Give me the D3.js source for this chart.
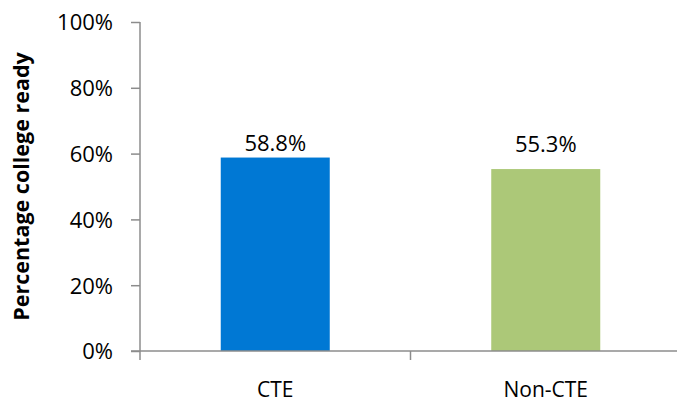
<!DOCTYPE html>
<html>
<head>
<meta charset="utf-8">
<script src="https://cdn.jsdelivr.net/npm/d3@7"></script>
<style>
  html, body { margin: 0; padding: 0; background: #fff; }
  svg { display: block; }
  text { font-family: "Open Sans", "Liberation Sans", sans-serif; fill: #000; }
</style>
</head>
<body>
<svg id="chart" width="677" height="404"></svg>
<script>
// Share of students who are college ready, by program type
const categories = ["CTE", "Non-CTE"];
const values = [0.588, 0.553];
const barColors = ["#0078D4", "#ACC878"];
const yTicks = [0, 0.2, 0.4, 0.6, 0.8, 1.0];
const yTitle = "Percentage college ready";

const svg = d3.select("#chart");
const plot = { left: 140, right: 681, top: 22, bottom: 351 };
const axisColor = "#8c8c8c";
const fontSize = 22;

const x = d3.scaleBand()
  .domain(categories)
  .range([plot.left, plot.right])
  .padding(0);

const y = d3.scaleLinear()
  .domain([0, 1])
  .range([plot.bottom, plot.top]);

const barWidth = x.bandwidth() * 0.403;
const pct = d3.format(".0%");
const pct1 = d3.format(".1%");

// bars
svg.append("g")
  .selectAll("rect")
  .data(categories)
  .join("rect")
  .attr("x", (d) => x(d) + (x.bandwidth() - barWidth) / 2)
  .attr("width", barWidth)
  .attr("y", (d, i) => y(values[i]))
  .attr("height", (d, i) => y(0) - y(values[i]))
  .attr("fill", (d, i) => barColors[i]);

// y axis
const yAxis = d3.axisLeft(y)
  .tickValues(yTicks)
  .tickFormat(pct)
  .tickSize(9)
  .tickPadding(18);

const gy = svg.append("g")
  .attr("transform", `translate(${plot.left},0)`)
  .call(yAxis);
gy.select(".domain").attr("stroke", axisColor).attr("stroke-width", 1.5)
  .attr("d", `M0,${plot.top}V${plot.bottom}`);
gy.selectAll(".tick line").attr("stroke", axisColor).attr("stroke-width", 1.5);
gy.selectAll(".tick text")
  .attr("font-size", fontSize)
  .attr("font-family", "'Open Sans', 'Liberation Sans', sans-serif")
  .attr("fill", "#000")
  .attr("dy", "0.36em");

// x axis baseline with boundary ticks between categories
const gx = svg.append("g");
gx.append("line")
  .attr("x1", plot.left - 9)
  .attr("x2", plot.right)
  .attr("y1", y(0))
  .attr("y2", y(0))
  .attr("stroke", axisColor)
  .attr("stroke-width", 1.5);
const bounds = categories.map((c) => x(c)).concat([x(categories[categories.length - 1]) + x.bandwidth()]);
gx.selectAll("line.bound")
  .data(bounds)
  .join("line")
  .attr("class", "bound")
  .attr("x1", (d) => d)
  .attr("x2", (d) => d)
  .attr("y1", y(0))
  .attr("y2", y(0) + 9)
  .attr("stroke", axisColor)
  .attr("stroke-width", 1.5);

// category labels
svg.append("g")
  .selectAll("text")
  .data(categories)
  .join("text")
  .attr("x", (d) => x(d) + x.bandwidth() / 2)
  .attr("y", 397)
  .attr("text-anchor", "middle")
  .attr("font-size", 21)
  .text((d) => d);

// value labels above the bars
const labelBase = y(d3.max(values)) - 7;
svg.append("g")
  .selectAll("text")
  .data(categories)
  .join("text")
  .attr("x", (d) => x(d) + x.bandwidth() / 2)
  .attr("y", (d, i) => Math.min(labelBase + 1.5 * i, y(values[i]) - 7))
  .attr("text-anchor", "middle")
  .attr("font-size", fontSize)
  .text((d, i) => pct1(values[i]));

// y axis title
svg.append("text")
  .attr("transform", `translate(29,${(plot.top + plot.bottom) / 2}) rotate(-90)`)
  .attr("text-anchor", "middle")
  .attr("font-size", 21.5)
  .attr("font-weight", "bold")
  .text(yTitle);
</script>
</body>
</html>
